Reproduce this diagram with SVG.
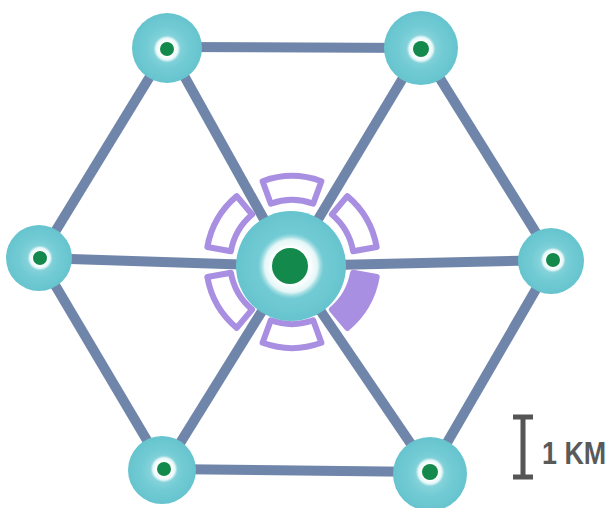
<svg xmlns="http://www.w3.org/2000/svg" width="616" height="508" viewBox="0 0 616 508">
<style>
.edge{stroke:#7085aa;stroke-width:10;stroke-linecap:butt;fill:none}
.cy{fill:url(#cyg)}
.halo{fill:url(#halo)}
.dot{fill:#138a4c}
.seg{fill:#fff;stroke:#a98fe2;stroke-width:6;stroke-linejoin:round}
.segf{fill:#a98fe2;stroke:#a98fe2;stroke-width:6;stroke-linejoin:round}
.scale{stroke:#555;stroke-width:5;fill:none}
.lbl{font-family:"Liberation Sans",Arial,sans-serif;font-size:32px;font-weight:bold;fill:#5a5a5a}
</style>
<defs>
<radialGradient id="cyg" cx="0.5" cy="0.5" r="0.5">
<stop offset="0" stop-color="#9fdde2"/>
<stop offset="0.6" stop-color="#72cbd4"/>
<stop offset="1" stop-color="#66c4ce"/>
</radialGradient>
<radialGradient id="halo" cx="0.5" cy="0.5" r="0.5">
<stop offset="0.55" stop-color="#ffffff"/>
<stop offset="0.8" stop-color="#e4f6f7"/>
<stop offset="1" stop-color="#9fdde2" stop-opacity="0"/>
</radialGradient>
<path id="sector" d="M-29.4,-80.8 A86,86 0 0 1 29.4,-80.8 L21.2,-58.3 A62,62 0 0 0 -21.2,-58.3 Z"/>
</defs>
<rect width="616" height="508" fill="#fff"/>
<g id="connectors">
<line class="edge" x1="168" y1="47" x2="421" y2="48"/>
<line class="edge" x1="421" y1="48" x2="553" y2="260"/>
<line class="edge" x1="553" y1="260" x2="430" y2="472"/>
<line class="edge" x1="430" y1="472" x2="164" y2="469"/>
<line class="edge" x1="164" y1="469" x2="39" y2="258"/>
<line class="edge" x1="39" y1="258" x2="168" y2="47"/>
<line class="edge" x1="290" y1="266" x2="168" y2="47"/>
<line class="edge" x1="290" y1="266" x2="421" y2="48"/>
<line class="edge" x1="290" y1="266" x2="553" y2="260"/>
<line class="edge" x1="290" y1="266" x2="430" y2="472"/>
<line class="edge" x1="290" y1="266" x2="164" y2="469"/>
<line class="edge" x1="290" y1="266" x2="39" y2="258"/>
</g>
<g id="ring">
<use href="#sector" class="seg" transform="translate(292,262)"/>
<use href="#sector" class="seg" transform="translate(292,262) rotate(60)"/>
<use href="#sector" class="segf" transform="translate(292,262) rotate(120)"/>
<use href="#sector" class="seg" transform="translate(292,262) rotate(180)"/>
<use href="#sector" class="seg" transform="translate(292,262) rotate(240)"/>
<use href="#sector" class="seg" transform="translate(292,262) rotate(300)"/>
</g>
<g id="node-center">
<circle class="cy" cx="291" cy="266" r="55"/>
<circle class="halo" cx="291" cy="266" r="33"/>
<circle class="dot" cx="290" cy="266" r="18"/>
</g>
<g id="node-top-left">
<circle class="cy" cx="167" cy="48" r="35"/>
<circle class="halo" cx="167" cy="49" r="14"/>
<circle class="dot" cx="167" cy="49" r="7"/>
</g>
<g id="node-top-right">
<circle class="cy" cx="421" cy="48" r="37"/>
<circle class="halo" cx="421" cy="49" r="15"/>
<circle class="dot" cx="421" cy="49" r="8"/>
</g>
<g id="node-left">
<circle class="cy" cx="39" cy="258" r="33"/>
<circle class="halo" cx="40" cy="258" r="13"/>
<circle class="dot" cx="40" cy="258" r="7"/>
</g>
<g id="node-right">
<circle class="cy" cx="551" cy="261" r="33"/>
<circle class="halo" cx="553" cy="260" r="13"/>
<circle class="dot" cx="553" cy="260" r="7"/>
</g>
<g id="node-bottom-left">
<circle class="cy" cx="162" cy="470" r="34"/>
<circle class="halo" cx="164" cy="469" r="14"/>
<circle class="dot" cx="164" cy="469" r="7"/>
</g>
<g id="node-bottom-right">
<circle class="cy" cx="430" cy="474" r="37"/>
<circle class="halo" cx="430" cy="472" r="15"/>
<circle class="dot" cx="430" cy="472" r="8"/>
</g>
<g id="scale-bar">
<path class="scale" d="M523,417 V477 M513,417 H533 M513,477 H533"/>
<text class="lbl" transform="translate(542,464) scale(0.84,1)">1 KM</text>
</g>
</svg>
